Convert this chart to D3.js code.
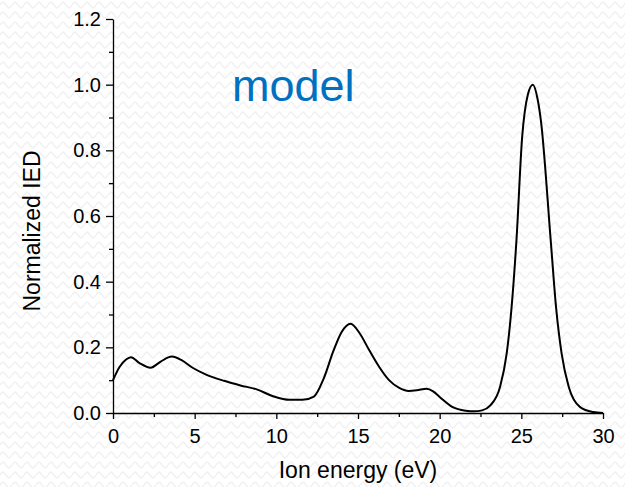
<html>
<head>
    <script src="https://d3js.org/d3.v7.min.js"></script>
    <style>
        body { margin: 0; background: #ffffff; }
        svg { display: block; }
        .tick text { font-family: "Liberation Sans", Arial, sans-serif; font-size: 20px; fill: #000; }
        .domain, .tick line { stroke: #000; stroke-width: 1.3; }
    </style>
</head>
<body>
    <svg id="chart"></svg>
    <script>
        // energia de los iones (eV) y la IED normalizada
        var energy = [0, 0.4, 0.8, 1.1, 1.6, 2.3, 2.9, 3.6, 4.2, 4.9, 5.7, 6.8, 7.8, 8.8, 9.8, 10.8, 11.6, 12.3, 12.9,
                      13.5, 14.0, 14.55, 15.1, 15.7, 16.3, 16.9, 17.5, 18.1, 18.6, 19.2, 19.6, 20.0, 20.8, 21.6, 22.1, 22.6,
                      23.1, 23.7, 24.1, 24.4, 24.7, 25.05, 25.4, 25.7, 26.0, 26.2, 26.8, 27.13, 27.47, 27.9, 28.6, 29.4, 30];
        var ied = [0.10, 0.14, 0.163, 0.17, 0.153, 0.138, 0.156, 0.172, 0.161, 0.137, 0.117, 0.098, 0.084, 0.072, 0.051, 0.04, 0.04, 0.05, 0.105,
                   0.19, 0.247, 0.272, 0.243, 0.19, 0.14, 0.10, 0.077, 0.067, 0.069, 0.074, 0.066, 0.049, 0.018, 0.007, 0.005, 0.008,
                   0.023, 0.08, 0.18, 0.32, 0.525, 0.84, 0.97, 1.0, 0.955, 0.89, 0.525, 0.32, 0.18, 0.08, 0.018, 0.003, 0.0];

        var xTicks = [0, 5, 10, 15, 20, 25, 30];
        var xMinor = [2.5, 7.5, 12.5, 17.5, 22.5, 27.5];
        var yTicks = [0, 0.2, 0.4, 0.6, 0.8, 1.0, 1.2];
        var yMinor = [0.1, 0.3, 0.5, 0.7, 0.9, 1.1];

        var xLabel = "Ion energy (eV)";
        var yLabel = "Normalized IED";
        var note = "model";

        var W = 625, H = 487;
        var svg = d3.select("#chart").attr("width", W).attr("height", H);

        /* fondo con el patron ondulado gris clarito */
        var defs = svg.append("defs");
        var pat = defs.append("pattern")
            .attr("id", "waves")
            .attr("patternUnits", "userSpaceOnUse")
            .attr("width", 12)
            .attr("height", 10);
        pat.append("rect").attr("width", 12).attr("height", 10).attr("fill", "#ffffff");
        pat.append("path")
            .attr("d", "M0,5 C3,1 3,1 6,5 C9,9 9,9 12,5")
            .attr("fill", "none")
            .attr("stroke", "#f1f1f1")
            .attr("stroke-width", 1.4);
        svg.append("rect").attr("width", W).attr("height", H).attr("fill", "url(#waves)");

        var x = d3.scaleLinear().domain([0, 30]).range([113, 603]);
        var y = d3.scaleLinear().domain([0, 1.2]).range([413, 19]);

        /* ticks menores primero */
        svg.append("g")
            .attr("transform", "translate(0," + y(0) + ")")
            .call(d3.axisBottom(x).tickValues(xMinor).tickSize(4).tickFormat(""))
            .select(".domain").remove();
        svg.append("g")
            .attr("transform", "translate(" + x(0) + ",0)")
            .call(d3.axisLeft(y).tickValues(yMinor).tickSize(4).tickFormat(""))
            .select(".domain").remove();

        /* ejes principales */
        svg.append("g")
            .attr("transform", "translate(0," + y(0) + ")")
            .call(d3.axisBottom(x).tickValues(xTicks).tickSize(6).tickSizeOuter(0).tickPadding(10).tickFormat(d3.format("d")));
        svg.append("g")
            .attr("transform", "translate(" + x(0) + ",0)")
            .call(d3.axisLeft(y).tickValues(yTicks).tickSize(7).tickSizeOuter(0).tickPadding(5).tickFormat(d3.format(".1f")));

        /* la curva */
        var pts = energy.map((e, i) => ({e: e, v: ied[i]}));
        var line = d3.line()
            .x(d => x(d.e))
            .y(d => y(d.v))
            .curve(d3.curveMonotoneX);
        svg.append("path")
            .datum(pts)
            .attr("d", line)
            .attr("fill", "none")
            .attr("stroke", "#000")
            .attr("stroke-width", 2);

        /* titulos */
        svg.append("text")
            .attr("x", 358)
            .attr("y", 478)
            .attr("text-anchor", "middle")
            .style("font-family", "Liberation Sans, Arial, sans-serif")
            .style("font-size", "23px")
            .text(xLabel);
        svg.append("text")
            .attr("transform", "translate(39.5,231) rotate(-90)")
            .attr("text-anchor", "middle")
            .style("font-family", "Liberation Sans, Arial, sans-serif")
            .style("font-size", "23px")
            .text(yLabel);
        svg.append("text")
            .attr("x", 232)
            .attr("y", 101)
            .style("font-family", "Liberation Sans, Arial, sans-serif")
            .style("font-size", "45px")
            .style("fill", "#0070c0")
            .text(note);
    </script>
</body>
</html>
